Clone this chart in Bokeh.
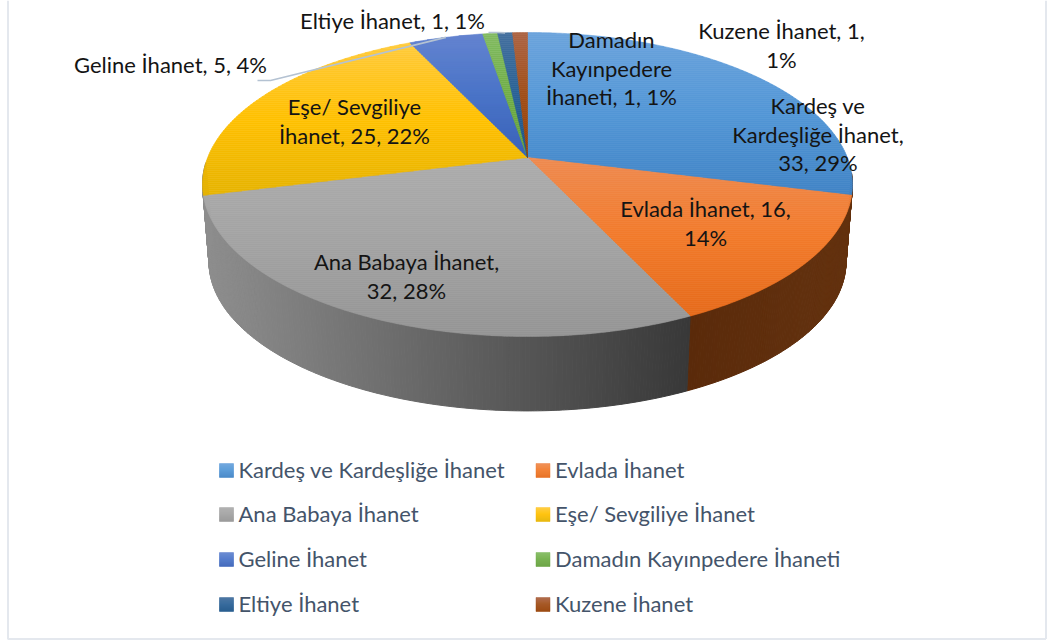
import numpy as np
from bokeh.plotting import figure
from bokeh.models import Range1d
from bokeh.core.properties import value
from bokeh.embed import file_html
from bokeh.resources import INLINE

categories = ["Kardeş ve Kardeşliğe İhanet", "Evlada İhanet", "Ana Babaya İhanet", "Eşe/ Sevgiliye İhanet",
              "Geline İhanet", "Damadın Kayınpedere İhaneti", "Eltiye İhanet", "Kuzene İhanet"]
values = [33, 16, 32, 25, 5, 1, 1, 1]
label_lines = [
    ["Kardeş ve", "Kardeşliğe İhanet,", "33, 29%"],
    ["Evlada İhanet, 16,", "14%"],
    ["Ana Babaya İhanet,", "32, 28%"],
    ["Eşe/ Sevgiliye", "İhanet, 25, 22%"],
    ["Geline İhanet, 5, 4%"],
    ["Damadın", "Kayınpedere", "İhaneti, 1, 1%"],
    ["Eltiye İhanet, 1, 1%"],
    ["Kuzene İhanet, 1,", "1%"],
]

# layout / style (screen pixels of the page)
label_pos = [(817.5, 105), (705, 208), (406, 261), (354, 106), (170, 64), (611, 39), (392, 20), (781, 30)]
stops = [("#6ba3dc", "#5296d6", "#4083c5"), ("#ee8a50", "#f27a2a", "#e56a1a"), ("#acacac", "#a2a2a2", "#949494"),
         ("#ffca3c", "#ffc000", "#e6b300"), ("#6484d0", "#4a74c8", "#3a62b8"), ("#82bb62", "#70ad47", "#64a03c"),
         ("#44709e", "#2a6296", "#1c5488"), ("#ac6444", "#a04e18", "#963f04")]
CX, CY, A, S, K = 527.0, 157.0, 319.8, 147.2, 0.1776
DEPTH, R = 78.0, 0.98
FONT = "Lato"
LABEL_PX, LEGEND_PX, LH = 22, 22, 28.6


def hex2rgb(h):
    return np.array([int(h[i:i + 2], 16) for i in (1, 3, 5)], float)


def mix(c0, c1, t):
    c = hex2rgb(c0) * (1 - t) + hex2rgb(c1) * t
    return "#%02x%02x%02x" % tuple(int(round(v)) for v in c)


def grad(st, t):
    t = min(max(t, 0.0), 1.0)
    return mix(st[0], st[1], t * 2) if t < .5 else mix(st[1], st[2], t * 2 - 1)


def top(th):
    X, Y = np.sin(np.radians(th)), -np.cos(np.radians(th))
    w = 1 - K * Y
    return CX + A * X / w, CY + S * Y / w


def bottom(th):
    x, y = top(th)
    return CX + (x - CX) * R, CY + DEPTH + (y - CY) * R


def clip(poly, y0, y1):
    def half(pts, inside, yc):
        out = []
        for i in range(len(pts)):
            a, b = pts[i], pts[(i + 1) % len(pts)]
            ia, ib = inside(a[1]), inside(b[1])
            if ia:
                out.append(a)
            if ia != ib:
                t = (yc - a[1]) / (b[1] - a[1])
                out.append((a[0] + (b[0] - a[0]) * t, yc))
        return out
    pts = half(poly, lambda y: y >= y0, y0)
    if pts:
        pts = half(pts, lambda y: y <= y1, y1)
    return pts


total = sum(values)
edges = np.cumsum([0] + values) / total * 360.0
pct = [round(100 * v / total) for v in values]

p = figure(width=1048, height=641, x_range=Range1d(0, 1048), y_range=Range1d(641, 0),
           output_backend="svg", toolbar_location=None, min_border=0, outline_line_color=None,
           background_fill_color="white", border_fill_color="white")
p.axis.visible = False
p.grid.visible = False

# pale frame of the picture
p.line([7.5, 7.5, 1045.5], [0, 638.5, 638.5], line_color="#e4e8ee", line_width=2)
p.line([1045.5, 1045.5], [0, 638.5], line_color="#e4e8ee", line_width=2)

# side wall: runs a little past the slice ends so that the silhouette stays round
xs, ys, cols = [], [], []
split = top(edges[2])[0]
left = top(edges[3])[0]
for i, lo, hi, c0, c1 in [(1, 96.0, edges[2], "#5a2a0a", "#64320f"),
                          (2, edges[2], 268.0, "#8e8e8e", "#383838")]:
    for a in np.arange(lo, hi, 0.5):
        b = min(a + 0.5, hi)
        (xa, ya), (xb, yb) = top(a), top(b)
        (xc, yc), (xd, yd) = bottom(b), bottom(a)
        xs.append([xa, xb, xc, xd])
        ys.append([ya, yb, yc, yd])
        if i == 1:
            t = ((xa + xb) / 2 - split) / (top(edges[1])[0] - split)
        else:
            t = ((xa + xb) / 2 - left) / (split - left)
        cols.append(mix(c0, c1, min(max(t, 0), 1)))
p.patches(xs, ys, fill_color=cols, line_color=cols, line_width=1)

# top face, banded vertically for the gradient
xs, ys, cols = [], [], []
for i in range(len(values)):
    arc = [top(t) for t in np.linspace(edges[i], edges[i + 1], max(int(values[i] * 6), 6))]
    poly = [(CX, CY)] + arc
    ymin, ymax = min(q[1] for q in poly), max(q[1] for q in poly)
    for y0 in np.arange(ymin, ymax, 2.0):
        band = clip(poly, y0, y0 + 2.0)
        if len(band) >= 3:
            xs.append([q[0] for q in band])
            ys.append([q[1] for q in band])
            cols.append(grad(stops[i], (y0 + 1 - ymin) / (ymax - ymin)))
p.patches(xs, ys, fill_color=cols, line_color=cols, line_width=0.6)

# leader lines end at the middle of their slices
for i, (sx, sy) in {4: (257, 80), 6: (488, 32)}.items():
    ex, ey = top((edges[i] + edges[i + 1]) / 2)
    p.line([sx, sx + 13 if i == 4 else sx + 10, ex], [sy, sy, ey], line_color="#b4c2d2", line_width=1.6)

# data labels
tx, ty, tt = [], [], []
for (x0, y0), lines in zip(label_pos, label_lines):
    for j, s in enumerate(lines):
        tx.append(x0)
        ty.append(y0 + j * LH)
        tt.append(s)
p.text(x=tx, y=ty, text=tt, text_font=value(FONT), text_font_size=f"{LABEL_PX}px", text_color="#141414",
       text_align="center", text_baseline="middle")

# legend
col_x = [219, 535.5]
row_y = [470, 514, 559, 604]
xs, ys, cols = [], [], []
lx, ly, lt = [], [], []
for i, c in enumerate(categories):
    x0, y0 = col_x[i % 2], row_y[i // 2]
    for j in range(14):
        xs.append([x0, x0 + 14, x0 + 14, x0])
        ys.append([y0 - 7 + j, y0 - 7 + j, y0 - 6 + j, y0 - 6 + j])
        cols.append(grad(stops[i], (j + .5) / 14))
    lx.append(x0 + 19)
    ly.append(y0 - 1)
    lt.append(c)
p.patches(xs, ys, fill_color=cols, line_color=cols, line_width=0.5)
p.text(x=lx, y=ly, text=lt, text_font=value(FONT), text_font_size=f"{LEGEND_PX}px", text_color="#44546a",
       text_align="left", text_baseline="middle")

open("out.html", "w").write(file_html(p, INLINE))
